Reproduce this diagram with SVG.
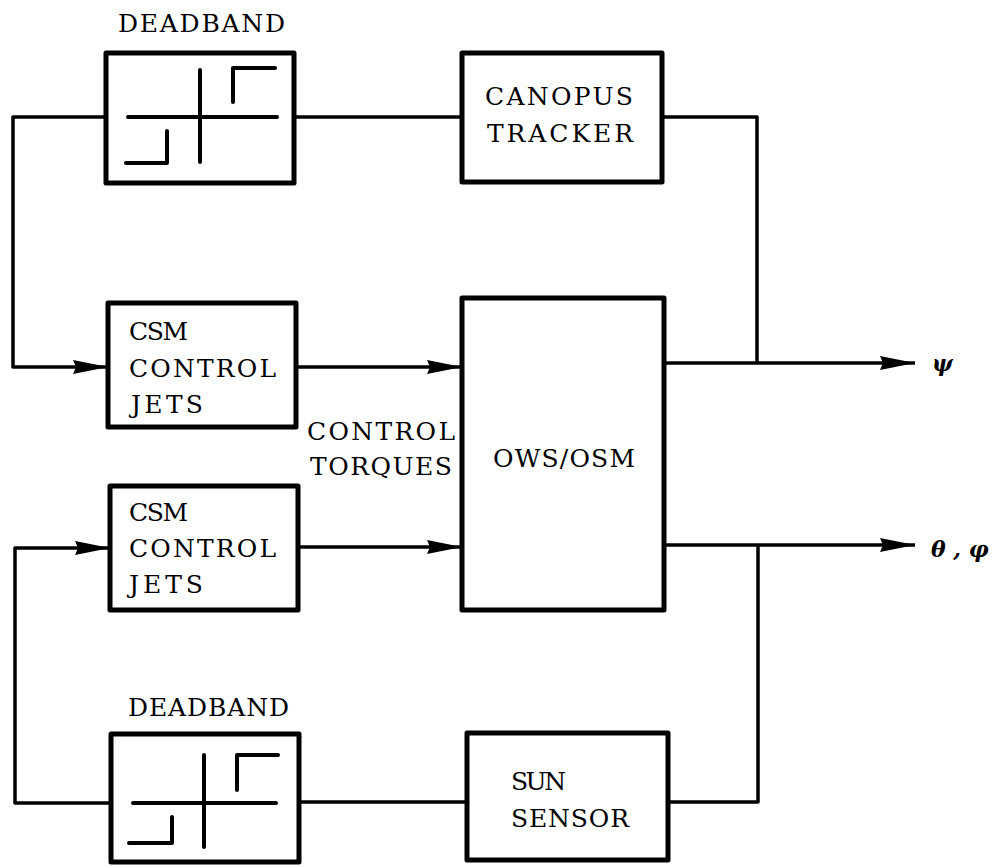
<svg xmlns="http://www.w3.org/2000/svg" width="997" height="867" viewBox="0 0 997 867">
<style>
.box{fill:#fff;stroke:#000;stroke-width:5;stroke-linejoin:round}
.sym{fill:none;stroke:#000;stroke-width:4;stroke-linecap:round;stroke-linejoin:round}
.wire{fill:none;stroke:#000;stroke-width:3.5;stroke-linejoin:round}
text{fill:#000}
</style>
<defs>
<marker id="arr" markerUnits="userSpaceOnUse" markerWidth="36" markerHeight="16" refX="35" refY="8" orient="auto">
<path d="M0,1 L35,8 L0,15 L3,8 Z" fill="#000"/>
</marker>
</defs>
<rect width="997" height="867" fill="#fff"/>
<g id="connectors">
<path class="wire" d="M106,117 H13 V367 H108" marker-end="url(#arr)"/>
<path class="wire" d="M294,117 H462"/>
<path class="wire" d="M662,117 H757 V363"/>
<path class="wire" d="M296,367 H462" marker-end="url(#arr)"/>
<path class="wire" d="M664,363 H915" marker-end="url(#arr)"/>
<path class="wire" d="M298,547 H462" marker-end="url(#arr)"/>
<path class="wire" d="M664,545 H915" marker-end="url(#arr)"/>
<path class="wire" d="M758,545 V802 H668"/>
<path class="wire" d="M467,802 H299"/>
<path class="wire" d="M111,803 H15 V548 H110" marker-end="url(#arr)"/>
</g>
<g font-family="'DejaVu Serif', 'Liberation Serif', serif" font-size="25">
<g id="deadband1">
<text x="118" y="32" textLength="167" lengthAdjust="spacing">DEADBAND</text>
<rect class="box" x="106" y="53" width="188" height="130"/>
<path class="sym" d="M128,117 H277 M200,70 V162 M233,102 V68 H275 M126,163 H167 V131"/>
</g>
<g id="canopus">
<rect class="box" x="462" y="53" width="200" height="129"/>
<text x="485" y="105" textLength="148" lengthAdjust="spacing">CANOPUS</text>
<text x="487" y="142" textLength="146" lengthAdjust="spacing">TRACKER</text>
</g>
<g id="jets1">
<rect class="box" x="108" y="303" width="188" height="124"/>
<text x="129" y="340" textLength="59" lengthAdjust="spacing">CSM</text>
<text x="129" y="377" textLength="147" lengthAdjust="spacing">CONTROL</text>
<text x="131" y="413" textLength="72" lengthAdjust="spacing">JETS</text>
</g>
<g id="torques">
<text x="307" y="440" textLength="148" lengthAdjust="spacing">CONTROL</text>
<text x="310" y="475" textLength="142" lengthAdjust="spacing">TORQUES</text>
</g>
<g id="jets2">
<rect class="box" x="110" y="486" width="188" height="124"/>
<text x="129" y="521" textLength="59" lengthAdjust="spacing">CSM</text>
<text x="129" y="557" textLength="147" lengthAdjust="spacing">CONTROL</text>
<text x="129" y="593" textLength="74" lengthAdjust="spacing">JETS</text>
</g>
<g id="ows">
<rect class="box" x="462" y="298" width="202" height="312"/>
<text x="493" y="467" textLength="142" lengthAdjust="spacing">OWS/OSM</text>
</g>
<g id="deadband2">
<text x="128" y="716" textLength="161" lengthAdjust="spacing">DEADBAND</text>
<rect class="box" x="111" y="734" width="188" height="128"/>
<path class="sym" d="M133,803 H276 M204,755 V847 M237,790 V755 H278 M129,843 H172 V817"/>
</g>
<g id="sunsensor">
<rect class="box" x="467" y="733" width="201" height="127"/>
<text x="511" y="790" textLength="55" lengthAdjust="spacing">SUN</text>
<text x="511" y="827" textLength="118" lengthAdjust="spacing">SENSOR</text>
</g>
</g>
<g id="outputs" font-family="'DejaVu Serif', 'Liberation Serif', serif" font-size="22" font-weight="bold" font-style="italic">
<text x="932" y="371">ψ</text>
<text x="931" y="557">θ , φ</text>
</g>
</svg>
